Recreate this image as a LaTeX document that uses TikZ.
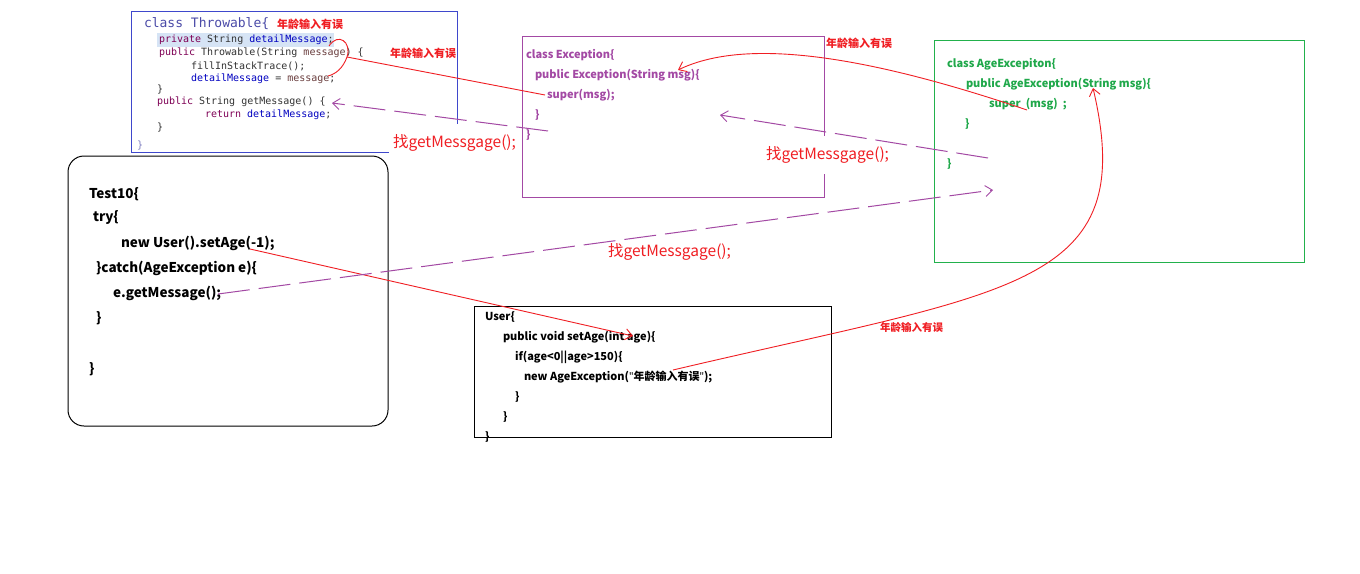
\documentclass[tikz,border=0pt]{standalone}
\usepackage{fontspec}
\setmainfont{Noto Sans CJK SC}
\newfontfamily\monofam{DejaVu Sans Mono}
\newfontfamily\latinfam{Noto Sans}
\usetikzlibrary{arrows.meta}

\definecolor{thrblue}{HTML}{3F48CC}
\definecolor{excp}{HTML}{A349A4}
\definecolor{agegreen}{HTML}{22B14C}
\definecolor{agetext}{HTML}{1FA84A}
\definecolor{redc}{HTML}{F01E23}
\definecolor{kw}{HTML}{7F0055}
\definecolor{fld}{HTML}{0000C0}
\definecolor{par}{HTML}{6A3E3E}
\definecolor{hl}{HTML}{D6E4F5}
\definecolor{clsblue}{HTML}{4B4BA8}

% straight double quote taken from a Latin face
\newcommand{\dq}{{\latinfam\symbol{34}}}

\begin{document}
\begin{tikzpicture}[x=1pt,y=-1pt,
  every node/.style={inner sep=0pt,outer sep=0pt,anchor=west},
  thr/.style={font=\monofam\fontsize{10}{12}\selectfont,text=black!80},
  exc/.style={text=excp,font=\bfseries\fontsize{11}{13}\selectfont},
  agec/.style={text=agetext,font=\bfseries\fontsize{11}{13}\selectfont},
  testc/.style={text=black,font=\bfseries\fontsize{13.5}{16}\selectfont},
  userc/.style={text=black,font=\bfseries\fontsize{11}{13}\selectfont},
  note/.style={text=redc,font=\bfseries\fontsize{11}{13}\selectfont},
  findlbl/.style={text=redc,font=\fontsize{15.5}{18}\selectfont},
  redline/.style={draw=redc,line width=0.9pt},
  callline/.style={draw=excp,line width=1pt,dash pattern=on 32pt off 9pt},
  tip/.style={-{Straight Barb[length=7pt,width=11pt,line width=0.9pt]}}]

\fill[white] (0,0) rectangle (1360,573);
\useasboundingbox (0,0) rectangle (1360,573);

% ---------- class Throwable ----------
\draw[thrblue,line width=1pt] (131,11) rectangle (457,152);
\fill[hl] (157,33) rectangle (334,47);
\node[font=\monofam\fontsize{13}{15}\selectfont,text=clsblue] (thrhead) at (144,24) {class Throwable\{};
\node[thr] (thr1) at (159,40) {\textcolor{kw}{private} String \textcolor{fld}{detailMessage};};
\node[thr] (thr2) at (159,53) {\textcolor{kw}{public} Throwable(String \textcolor{par}{message}) \{};
\node[thr] (thr3) at (191,66) {fillInStackTrace();};
\node[thr] (thr4) at (191,79) {\textcolor{fld}{detailMessage} = \textcolor{par}{message};};
\node[thr] (thr5) at (157,90) {\}};
\node[thr] (thr6) at (157,102) {\textcolor{kw}{public} String getMessage() \{};
\node[thr] (thr7) at (205,115) {\textcolor{kw}{return} \textcolor{fld}{detailMessage};};
\node[thr] (thr8) at (157,128) {\}};
\node[thr,text=clsblue!70] (thr9) at (137,146) {\}};

\node[note] (note1) at (277,24) {年龄输入有误};
\node[note] (note2) at (390,53) {年龄输入有误};

\node[findlbl,fill=white,inner xsep=4pt,inner ysep=11pt] (find1) at (389,143) {找getMessgage();};

% ---------- class Exception ----------
\draw[excp,line width=1pt] (522,36) rectangle (824,197);
\node[exc] (exc1) at (526,55) {class Exception\{};
\node[exc] (exc2) at (535,75) {public Exception(String msg)\{};
\node[exc] (exc3) at (547,95) {super(msg);};
\node[exc] (exc4) at (535,115) {\}};
\node[exc] (exc5) at (526,135) {\}};
\node[note] (note3) at (826,43) {年龄输入有误};

\node[findlbl,fill=white,inner xsep=4pt,inner ysep=11pt] (find2) at (762,155) {找getMessgage();};

% ---------- class AgeExcepiton ----------
\draw[agegreen,line width=1pt] (934,40) rectangle (1304,262);
\node[agec] (age1) at (947,64) {class AgeExcepiton\{};
\node[agec] (age2) at (966,84) {public AgeException(String msg)\{};
\node[agec] (age3) at (989,104) {super\ \ (msg)\ \ ;};
\node[agec] (age4) at (965,124) {\}};
\node[agec] (age5) at (947,164) {\}};

% ---------- Test10 ----------
\draw[black,line width=1pt,rounded corners=16pt] (68,156) rectangle (388,426);
\node[testc] (test1) at (89,194) {Test10\{};
\node[testc] (test2) at (93,218) {try\{};
\node[testc] (test3) at (121,243) {new User().setAge(-1);};
\node[testc] (test4) at (96,268) {\}catch(AgeException e)\{};
\node[testc] (test5) at (113,293) {e.getMessage();};
\node[testc] (test6) at (96,318) {\}};
\node[testc] (test7) at (89,369) {\}};

\node[findlbl] (find3) at (608,252) {找getMessgage();};

% ---------- User ----------
\draw[black,line width=1pt] (474,306) rectangle (831,437);
\node[userc] (user1) at (485,317) {User\{};
\node[userc] (user2) at (503,337) {public void setAge(int age)\{};
\node[userc] (user3) at (515,357) {if(age<0||age>150)\{};
\node[userc] (user4) at (524,377) {new AgeException(\dq 年龄输入有误\dq);};
\node[userc] (user5) at (515,397) {\}};
\node[userc] (user6) at (503,417) {\}};
\node[userc] (user7) at (485,437) {\}};
\node[note,font=\bfseries\fontsize{10.5}{12}\selectfont] (note4) at (880,328) {年龄输入有误};

% ---------- anchor points on the code ----------
\coordinate (argneg) at (250,249);
\coordinate (setagearg) at (633,336);
\coordinate (newage) at (673,370);
\coordinate (agemsg) at (1093,88);
\coordinate (agesuper) at (1027,110);
\coordinate (excmsg) at (678,70);
\coordinate (thrloopA) at (329,46);
\coordinate (thrloopB) at (328,76);
\coordinate (thrmsg) at (347,57);
\coordinate (excsuper) at (545,95);
\coordinate (callget) at (218,294);
\coordinate (ageget) at (993,190);
\coordinate (ageget2) at (988,158);
\coordinate (excget) at (720,115);
\coordinate (excget2) at (548,131);
\coordinate (thrget) at (332,103);

% ---------- the message being passed up ----------
\draw[redline,tip] (argneg) -- (setagearg);
\draw[redline,tip] (newage) .. controls (1013,290) and (1140,288) .. (agemsg);
\draw[redline,tip] (agesuper) .. controls (850,50) and (740,40) .. (excmsg);
\draw[redline] (thrloopA) .. controls (338,32) and (352,42) .. (thrmsg)
                .. controls (343,68) and (336,74) .. (thrloopB);
\draw[redline] (thrmsg) -- (excsuper);

% ---------- the getMessage() lookup ----------
\draw[callline,tip] (callget) -- (ageget);
\draw[callline,tip] (ageget2) -- (excget);
\draw[callline,tip] (excget2) -- (thrget);
\end{tikzpicture}
\end{document}
